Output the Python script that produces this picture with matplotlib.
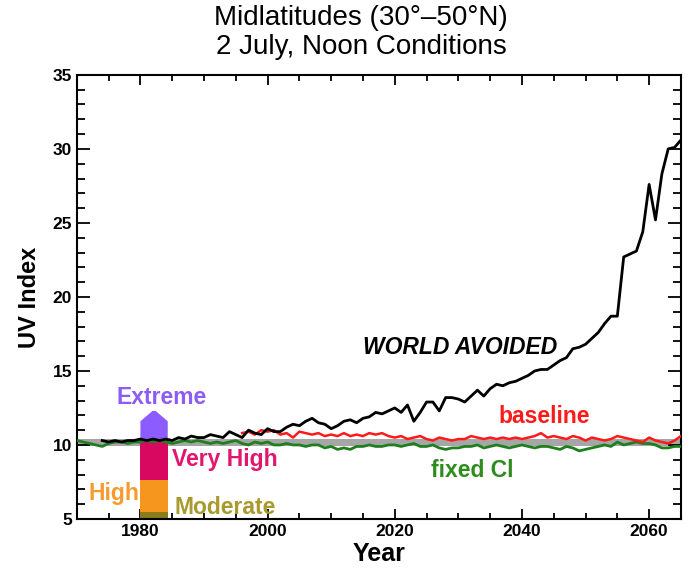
import matplotlib
matplotlib.use("Agg")
import matplotlib.pyplot as plt
import numpy as np

plt.rcParams['font.family'] = ['Liberation Sans', 'DejaVu Sans']

# ---- data ----
years = np.arange(1970, 2066)

world_avoided_years = np.arange(1974, 2066)
world_avoided = [10.3, 10.2, 10.3, 10.2, 10.3, 10.3, 10.4, 10.3, 10.4, 10.3,
                 10.4, 10.3, 10.5, 10.4, 10.6, 10.5, 10.5, 10.7, 10.6, 10.5,
                 10.9, 10.7, 10.5, 11.0, 10.8, 10.7, 11.1, 10.9, 10.9, 11.2,
                 11.4, 11.3, 11.6, 11.8, 11.5, 11.4, 11.1, 11.3, 11.6, 11.7,
                 11.5, 11.8, 11.9, 12.2, 12.1, 12.3, 12.5, 12.2, 12.7, 11.6,
                 12.2, 12.9, 12.9, 12.3, 13.2, 13.2, 13.1, 12.9, 13.3, 13.7,
                 13.3, 13.8, 14.1, 14.0, 14.2, 14.3, 14.5, 14.7, 15.0, 15.1,
                 15.1, 15.4, 15.7, 15.9, 16.5, 16.6, 16.8, 17.2, 17.6, 18.2,
                 18.7, 18.7, 22.7, 22.9, 23.1, 24.4, 27.6, 25.2, 28.3, 30.0,
                 30.1, 30.6]

baseline_years = np.arange(1996, 2066)
baseline = [10.8, 10.9, 10.7, 11.0, 10.9, 11.0, 10.7, 10.8, 10.5, 10.9,
            10.8, 10.7, 10.8, 10.6, 10.7, 10.6, 10.8, 10.6, 10.7, 10.6,
            10.8, 10.7, 10.8, 10.6, 10.5, 10.6, 10.4, 10.5, 10.6, 10.4,
            10.3, 10.5, 10.4, 10.3, 10.4, 10.4, 10.6, 10.5, 10.4, 10.5,
            10.4, 10.5, 10.4, 10.5, 10.4, 10.5, 10.6, 10.8, 10.5, 10.6,
            10.5, 10.4, 10.6, 10.5, 10.3, 10.5, 10.4, 10.3, 10.4, 10.6,
            10.5, 10.4, 10.3, 10.2, 10.5, 10.3, 10.2, 10.1, 10.3, 10.6]

fixed_cl = [10.3, 10.2, 10.1, 10.0, 9.9, 10.1, 10.2, 10.2, 10.1, 10.2,
            10.2, 10.3, 10.2, 10.3, 10.2, 10.1, 10.2, 10.3, 10.2, 10.3,
            10.2, 10.1, 10.2, 10.1, 10.2, 10.3, 10.1, 10.0, 10.2, 10.1,
            10.2, 10.0, 10.0, 10.1, 10.0, 10.0, 9.9, 10.0, 10.0, 9.8,
            9.9, 9.7, 9.8, 9.7, 9.9, 9.9, 10.0, 9.9, 9.9, 10.0,
            10.0, 9.9, 10.0, 10.1, 9.9, 9.9, 10.0, 9.8, 9.7, 9.8,
            9.8, 9.9, 9.9, 10.0, 9.8, 9.9, 10.0, 9.9, 9.8, 9.9,
            10.0, 9.9, 9.8, 9.9, 9.9, 9.8, 9.7, 9.9, 9.8, 9.6,
            9.7, 9.8, 9.9, 10.0, 9.9, 10.2, 10.0, 10.1, 10.2, 10.1,
            10.1, 10.0, 9.8, 9.8, 9.9, 9.9]

band_low, band_high = 9.9, 10.38

# UV category scale bar (bottom, top) and colours
cat_names = ['Moderate', 'High', 'Very High', 'Extreme']
cat_bottom = [5.0, 5.5, 7.6, 10.4]
cat_top = [5.5, 7.6, 10.4, 11.6]
cat_colors = ['#8a7c1c', '#f7961e', '#d8075f', '#8c5cff']
cat_text_colors = ['#a89a2e', '#f89a2c', '#e0176c', '#8c5cf5']
bar_x0, bar_x1 = 1980.0, 1984.3
arrow_tip = 12.3

fig = plt.figure(figsize=(6.92, 5.76), dpi=100)
ax = fig.add_axes([0.111, 0.099, 0.873, 0.771])

ax.fill_between([1970, 2065], band_low, band_high, color='#a6a6a6', lw=0, zorder=1)

# category bar
for b, t, c in zip(cat_bottom[:3], cat_top[:3], cat_colors[:3]):
    ax.fill_between([bar_x0, bar_x1], b, t, color=c, lw=0, zorder=2)
mid = (bar_x0 + bar_x1) / 2
ax.fill([bar_x0, bar_x0, mid - 0.25, mid + 0.25, bar_x1, bar_x1],
        [cat_bottom[3], cat_top[3], arrow_tip, arrow_tip, cat_top[3], cat_bottom[3]],
        color=cat_colors[3], lw=0, zorder=2)

ax.plot(years, fixed_cl, color='#1f7f1f', lw=2.0, zorder=3)
ax.plot(baseline_years, baseline, color='#ff1a1a', lw=1.8, zorder=4)
ax.plot(world_avoided_years, world_avoided, color='black', lw=2.0, zorder=5)

tfont = dict(fontsize=16.5, fontweight='bold')
ax.text(1983.4, 13.2, 'Extreme', color=cat_text_colors[3], ha='center', va='center', **tfont)
ax.text(1985.0, 9.0, 'Very High', color=cat_text_colors[2], ha='left', va='center', **tfont)
ax.text(1979.9, 6.75, 'High', color=cat_text_colors[1], ha='right', va='center', **tfont)
ax.text(1985.3, 5.8, 'Moderate', color=cat_text_colors[0], ha='left', va='center', **tfont)
ax.text(2043.5, 11.9, 'baseline', color='#ff1a1a', ha='center', va='center', **tfont)
ax.text(2032.2, 8.3, 'fixed Cl', color='#2e8b1e', ha='center', va='center', **tfont)
ax.text(2030.2, 16.6, 'WORLD AVOIDED', color='black', ha='center', va='center',
        fontsize=16.5, fontweight='bold', fontstyle='italic')

ax.set_xlim(1970, 2065)
ax.set_ylim(5, 35)
ax.set_xticks([1980, 2000, 2020, 2040, 2060])
ax.set_xticks(np.arange(1970, 2066, 5), minor=True)
ax.set_yticks(np.arange(5, 36, 5))
ax.set_yticks(np.arange(5, 36, 1), minor=True)
ax.tick_params(axis='both', which='both', direction='in', top=True, right=True,
               width=1.3, labelsize=12.5)
ax.tick_params(axis='x', which='major', length=7)
ax.tick_params(axis='x', which='minor', length=4)
ax.tick_params(axis='y', which='major', length=9.5)
ax.tick_params(axis='y', which='minor', length=5.5)
for lab in ax.get_xticklabels() + ax.get_yticklabels():
    lab.set_fontweight('bold')
for s in ax.spines.values():
    s.set_linewidth(1.5)

ax.set_xlabel('Year', fontsize=18, fontweight='bold', labelpad=2)
ax.set_ylabel('UV Index', fontsize=17, fontweight='bold', labelpad=8)

fig.text(0.522, 0.968, 'Midlatitudes (30°–50°N)', ha='center', va='center', fontsize=20)
fig.text(0.522, 0.918, '2 July, Noon Conditions', ha='center', va='center', fontsize=20)

fig.savefig('out.png', dpi=100)
